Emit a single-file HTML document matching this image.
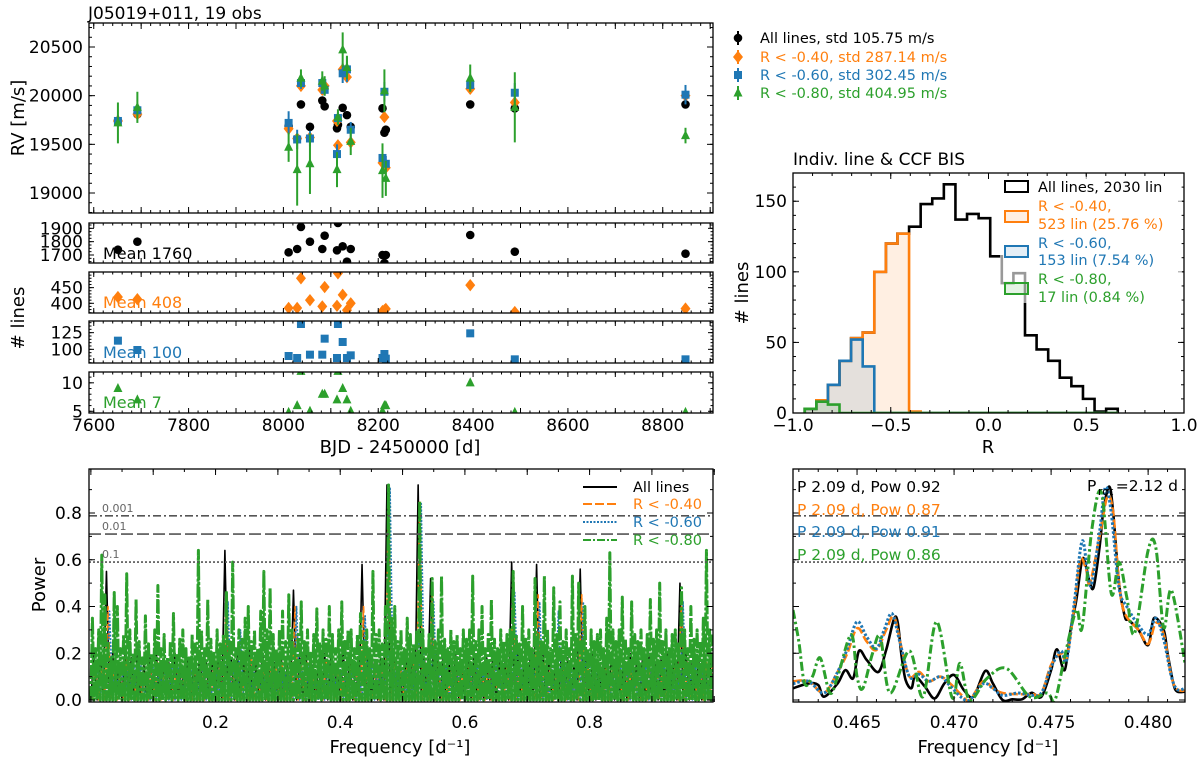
<!DOCTYPE html>
<html><head><meta charset="utf-8"><title>J05019+011 RV diagnostics</title>
<style>
html,body{margin:0;padding:0;background:#fff;}
svg{display:block;font-family:"DejaVu Sans","Liberation Sans",sans-serif;}
</style></head>
<body>
<svg id="chart" width="1200" height="762" viewBox="0 0 1200 762" xmlns="http://www.w3.org/2000/svg">
<defs>
<clipPath id="clipRV"><rect x="89" y="23" width="624" height="190"/></clipPath>
<clipPath id="clipN0"><rect x="89" y="223" width="624" height="40"/></clipPath>
<clipPath id="clipN1"><rect x="89" y="272" width="624" height="41"/></clipPath>
<clipPath id="clipN2"><rect x="89" y="321" width="624" height="42"/></clipPath>
<clipPath id="clipN3"><rect x="89" y="372" width="624" height="41"/></clipPath>
<clipPath id="clipH"><rect x="793" y="173" width="391" height="240"/></clipPath>
<clipPath id="clipPL"><rect x="89" y="469" width="624" height="233"/></clipPath>
<clipPath id="clipPR"><rect x="793" y="469" width="392" height="233"/></clipPath>
</defs>
<text x="88" y="19" font-size="17">J05019+011, 19 obs</text>
<text x="793" y="165" font-size="17">Indiv. line &amp; CCF BIS</text>
</svg>
<script>
// ---------------- DATA ----------------
const RV_DAYS = [7651,7692,8011,8029,8037,8056,8082,8087,8113,8115,8125,8134,8142,8209,8213,8216,8394,8488,8848];
const RV_ALL  = [19740,19810,19690,19560,19910,19680,19950,19890,19665,19700,19875,19800,19680,19870,19620,19650,19910,19870,19910];
const RV_R040 = [19740,19810,19660,19560,20100,19570,20060,20100,19740,19490,20270,20190,19520,19310,19780,19260,20070,19930,20000];
const RV_R060 = [19740,19850,19720,19550,20130,19560,20130,20060,19400,19770,20230,20270,19650,19360,20040,19300,20110,20030,20010];
const RV_R080 = [19720,19880,19470,19240,20180,19300,20150,20100,19240,19780,20470,20290,19530,19230,20050,19150,20180,19880,19590];
const ERR_ALL  = [15,15,15,15,15,15,15,15,15,15,15,15,15,15,15,15,15,15,15];
const ERR_R040 = [30,30,30,30,30,30,30,30,30,30,30,30,30,30,30,30,30,30,30];
const ERR_R060 = [60,60,120,100,60,80,60,60,100,60,100,130,80,100,100,80,60,100,100];
const ERR_R080 = [210,160,150,370,90,310,100,100,180,80,180,120,140,280,220,180,140,360,80];
const NL_ALL  = [1740,1800,1720,1745,1910,1800,1745,1845,1735,1940,1765,1650,1745,1700,1640,1700,1850,1725,1710];
const NL_R040 = [420,413,385,385,480,410,390,452,392,496,427,378,400,375,378,382,458,372,383];
const NL_R060 = [113,99,90,87,138,92,92,116,87,138,111,87,91,87,93,86,124,85,85];
const NL_R080 = [9,7,4.8,6,12,5,8,8,7,12,9,7,5,5,6,6,10,4.8,4.8];
const RV_LEGEND = ["All lines, std 105.75 m/s","R < -0.40, std 287.14 m/s","R < -0.60, std 302.45 m/s","R < -0.80, std 404.95 m/s"];
const MEAN_LABELS = ["Mean 1760","Mean 408","Mean 100","Mean 7"];

// histogram
const HIST_EDGE0 = -0.94;
const HIST_WIDTH = 0.0593;
const HIST_ALL  = [3,9,20,37,53,57,100,120,127,132,148,152,162,137,141,138,111,92,99,55,45,37,25,19,10,1,3];
const HIST_R040 = [3,9,20,37,53,57,100,120,127,1,0,0,0,0,0,0,0,0,0,0,0,0,0,0,0,0,0];
const HIST_R060 = [3,8,20,37,52,33,0,0,0,0,0,0,0,0,0,0,0,0,0,0,0,0,0,0,0,0,0];
const HIST_R080 = [3,8,6,0,0,0,0,0,0,0,0,0,0,0,0,0,0,0,0,0,0,0,0,0,0,0,0];
const HIST_LEGEND = ["All lines, 2030 lin","R < -0.40,","523 lin (25.76 %)","R < -0.60,","153 lin (7.54 %)","R < -0.80,","17 lin (0.84 %)"];

// full periodogram (bin peak powers)
const PG_F0_G = 0.0025, PG_STEP_G = 0.005;
const PG_R080 = [0.35,0.22,0.30,0.62,0.45,0.25,0.18,0.46,0.40,0.22,0.28,0.54,0.30,0.20,0.43,0.25,0.18,0.36,0.24,0.20,
0.30,0.49,0.22,0.28,0.18,0.25,0.37,0.20,0.26,0.30,0.22,0.18,0.28,0.24,0.64,0.30,0.22,0.43,0.26,0.20,
0.30,0.24,0.28,0.46,0.25,0.59,0.22,0.30,0.26,0.35,0.40,0.25,0.30,0.22,0.38,0.55,0.30,0.48,0.28,0.22,
0.30,0.38,0.25,0.45,0.30,0.22,0.28,0.42,0.25,0.30,0.20,0.28,0.39,0.24,0.30,0.26,0.40,0.28,0.22,0.30,
0.42,0.26,0.30,0.30,0.22,0.28,0.37,0.25,0.30,0.22,0.55,0.28,0.30,0.24,0.40,0.92,0.35,0.40,0.25,0.30,
0.22,0.35,0.28,0.24,0.30,0.85,0.30,0.22,0.28,0.52,0.25,0.30,0.53,0.26,0.22,0.30,0.25,0.28,0.22,0.30,
0.26,0.30,0.53,0.25,0.30,0.40,0.22,0.28,0.43,0.26,0.22,0.30,0.25,0.28,0.30,0.55,0.28,0.24,0.40,0.26,
0.30,0.22,0.52,0.28,0.25,0.53,0.30,0.22,0.48,0.28,0.42,0.25,0.30,0.22,0.53,0.28,0.50,0.26,0.40,0.22,
0.30,0.25,0.28,0.30,0.22,0.35,0.63,0.30,0.25,0.30,0.44,0.26,0.22,0.42,0.28,0.25,0.30,0.22,0.28,0.43,
0.26,0.30,0.50,0.25,0.30,0.22,0.28,0.30,0.25,0.48,0.30,0.22,0.40,0.26,0.30,0.25,0.35,0.64,0.30,0.28];
const PG_F0 = 0.005, PG_STEP = 0.01;
const PG_ALL = [0.20,0.18,0.55,0.20,0.15,0.22,0.18,0.20,0.15,0.18,0.20,0.15,0.16,0.20,0.15,0.18,0.15,0.20,0.16,0.18,
0.20,0.64,0.18,0.20,0.16,0.22,0.15,0.20,0.18,0.16,0.20,0.15,0.47,0.18,0.20,0.15,0.16,0.20,0.18,0.15,
0.20,0.18,0.15,0.58,0.20,0.16,0.18,0.92,0.20,0.16,0.18,0.20,0.92,0.18,0.52,0.20,0.18,0.15,0.20,0.16,
0.18,0.20,0.15,0.18,0.20,0.16,0.18,0.59,0.20,0.16,0.18,0.58,0.20,0.18,0.16,0.20,0.18,0.15,0.56,0.18,
0.20,0.16,0.18,0.20,0.16,0.18,0.20,0.15,0.18,0.20,0.16,0.18,0.20,0.18,0.50,0.20,0.16,0.18,0.20,0.18];
const PG_R040 = [0.16,0.14,0.40,0.16,0.12,0.18,0.15,0.16,0.12,0.15,0.16,0.12,0.14,0.16,0.12,0.15,0.12,0.16,0.12,0.15,
0.16,0.46,0.15,0.16,0.14,0.18,0.12,0.16,0.15,0.14,0.16,0.12,0.40,0.15,0.16,0.12,0.14,0.16,0.15,0.12,
0.16,0.15,0.12,0.40,0.16,0.14,0.15,0.87,0.16,0.14,0.15,0.16,0.85,0.15,0.45,0.16,0.15,0.12,0.16,0.14,
0.15,0.16,0.12,0.15,0.16,0.14,0.15,0.50,0.16,0.14,0.15,0.45,0.16,0.15,0.14,0.16,0.15,0.12,0.45,0.15,
0.16,0.14,0.15,0.16,0.14,0.15,0.16,0.12,0.15,0.16,0.14,0.15,0.16,0.15,0.45,0.16,0.14,0.15,0.16,0.15];
const PG_R060 = [0.15,0.14,0.38,0.15,0.13,0.17,0.14,0.15,0.12,0.14,0.15,0.13,0.14,0.15,0.12,0.15,0.13,0.15,0.13,0.14,
0.15,0.42,0.14,0.30,0.14,0.17,0.13,0.15,0.14,0.14,0.15,0.13,0.40,0.14,0.15,0.13,0.14,0.15,0.14,0.13,
0.15,0.14,0.13,0.36,0.15,0.14,0.14,0.91,0.15,0.14,0.14,0.15,0.84,0.14,0.42,0.15,0.14,0.13,0.15,0.14,
0.14,0.15,0.13,0.14,0.15,0.14,0.14,0.46,0.15,0.14,0.14,0.42,0.15,0.14,0.38,0.15,0.14,0.13,0.42,0.14,
0.15,0.14,0.14,0.15,0.14,0.14,0.15,0.13,0.14,0.15,0.14,0.14,0.15,0.14,0.42,0.15,0.14,0.14,0.15,0.14];
const FAP_LEVELS = [0.788,0.71,0.59];
const FAP_LABELS = ["0.001","0.01","0.1"];

// zoomed periodogram
const ZF_ALL = [0.4617,0.4625,0.4630,0.4633,0.4640,0.4644,0.4648,0.4651,0.4655,0.4661,0.4665,0.4670,0.4673,0.4675,0.4678,0.4680,0.4685,0.4690,0.4695,0.4700,0.4705,0.4710,0.4716,0.4720,0.4725,0.4730,0.4735,0.4740,0.4745,0.4750,0.4753,0.4757,0.4760,0.4763,0.4766,0.4768,0.4770,0.4772,0.4775,0.4777,0.4780,0.4782,0.4785,0.4788,0.4790,0.4795,0.4800,0.4803,0.4808,0.4810,0.4813,0.4815,0.4819];
const ZP_ALL = [0.05,0.071,0.064,0.014,0.071,0.128,0.093,0.21,0.171,0.12,0.214,0.357,0.185,0.086,0.05,0.10,0.057,0.007,0.071,0.107,0.043,0.014,0.124,0.071,0.0,0.003,0.003,0.031,0.014,0.128,0.217,0.128,0.30,0.428,0.60,0.57,0.50,0.485,0.656,0.813,0.913,0.80,0.50,0.357,0.342,0.30,0.235,0.35,0.30,0.20,0.071,0.036,0.036];
const ZF_R040 = [0.4617,0.4625,0.4633,0.4640,0.4645,0.4650,0.4655,0.4660,0.4665,0.4669,0.4673,0.4677,0.4682,0.4687,0.4693,0.4698,0.4704,0.4708,0.4715,0.4720,0.4725,0.4733,0.4740,0.4745,0.4750,0.4755,0.4758,0.4762,0.4765,0.4768,0.4770,0.4775,0.4779,0.4782,0.4785,0.4788,0.4795,0.4800,0.4804,0.4808,0.4812,0.4815,0.4819];
const ZP_R040 = [0.08,0.08,0.03,0.12,0.20,0.307,0.25,0.214,0.30,0.357,0.22,0.10,0.12,0.08,0.10,0.07,0.02,0.0,0.08,0.05,0.03,0.025,0.025,0.03,0.15,0.20,0.18,0.40,0.60,0.56,0.50,0.70,0.87,0.80,0.50,0.37,0.30,0.24,0.33,0.28,0.10,0.045,0.04];
const ZF_R060 = [0.4617,0.4625,0.4633,0.4640,0.4645,0.4650,0.4655,0.4660,0.4664,0.4668,0.4672,0.4677,0.4682,0.4687,0.4693,0.4698,0.4704,0.4708,0.4715,0.4720,0.4725,0.4733,0.4740,0.4745,0.4750,0.4755,0.4758,0.4762,0.4766,0.4769,0.4771,0.4775,0.4778,0.4781,0.4785,0.4789,0.4795,0.4800,0.4804,0.4808,0.4812,0.4815,0.4819];
const ZP_R060 = [0.07,0.08,0.03,0.12,0.22,0.335,0.27,0.22,0.30,0.37,0.25,0.10,0.11,0.08,0.10,0.06,0.01,0.0,0.07,0.05,0.02,0.03,0.02,0.03,0.14,0.21,0.17,0.42,0.68,0.53,0.50,0.72,0.91,0.80,0.48,0.40,0.32,0.28,0.35,0.26,0.10,0.045,0.05];
const ZF_R080 = [0.4617,0.4620,0.4623,0.4627,0.4631,0.4636,0.4640,0.4647,0.4650,0.4653,0.4658,0.4662,0.4667,0.4677,0.4684,0.4691,0.4699,0.4703,0.4708,0.4717,0.4727,0.4739,0.4748,0.4752,0.4757,0.4763,0.4766,0.4771,0.4776,0.4781,0.4785,0.4789,0.4793,0.4800,0.4804,0.4808,0.4812,0.4819];
const ZP_R080 = [0.385,0.25,0.07,0.10,0.18,0.03,0.10,0.28,0.10,0.05,0.20,0.27,0.03,0.21,0.014,0.335,0.01,0.157,0.0,0.093,0.135,0.014,0.03,0.0,0.185,0.385,0.31,0.73,0.885,0.456,0.59,0.44,0.285,0.64,0.65,0.31,0.47,0.157];
const ZOOM_LABELS = ["P 2.09 d, Pow 0.92","P 2.09 d, Pow 0.87","P 2.09 d, Pow 0.91","P 2.09 d, Pow 0.86"];

// ---------------- HELPERS ----------------
const svg = document.getElementById('chart');
const NS = 'http://www.w3.org/2000/svg';
const C = {k:'#000000', o:'#ff7f0e', b:'#1f77b4', g:'#2ca02c'};
function el(tag, attrs, parent){
  const e = document.createElementNS(NS, tag);
  for (const k in attrs) e.setAttribute(k, attrs[k]);
  (parent || svg).appendChild(e);
  return e;
}
function lin(d0,d1,r0,r1){ return v => r0 + (v-d0)/(d1-d0)*(r1-r0); }
function group(name, clip){
  const g = el('g', clip ? {'clip-path':'url(#'+clip+')'} : {});
  
  
  return g;
}
function txt(str, x, y, size, fill, anchor, parent, name){
  const t = el('text', {x:x, y:y, 'font-size':size, fill:fill||'#000', 'text-anchor':anchor||'start'}, parent);
  t.textContent = str;
  
  
  return t;
}
function frame(x0,y0,x1,y1,name){
  const r = el('rect', {x:x0, y:y0, width:x1-x0, height:y1-y0, fill:'none', stroke:'#000', 'stroke-width':1.3});
  
  
}
function xTicks(vals, sx, y0, y1, len, parent){
  vals.forEach(v => {
    const x = sx(v);
    const a = el('line', {x1:x, x2:x, y1:y1, y2:y1-len, stroke:'#000', 'stroke-width':1}, parent);
    
    
    const b = el('line', {x1:x, x2:x, y1:y0, y2:y0+len, stroke:'#000', 'stroke-width':1}, parent);
    
    
  });
}
function yTicks(vals, sy, x0, x1, len, parent){
  vals.forEach(v => {
    const y = sy(v);
    const a = el('line', {x1:x0, x2:x0+len, y1:y, y2:y, stroke:'#000', 'stroke-width':1}, parent);
    
    
    const b = el('line', {x1:x1, x2:x1-len, y1:y, y2:y, stroke:'#000', 'stroke-width':1}, parent);
    
    
  });
}
function range(a,b,s){ const r=[]; for(let v=a; v<=b+1e-9; v+=s) r.push(+v.toFixed(6)); return r; }
function marker(shape, x, y, color, parent, name){
  let m;
  if (shape==='o') m = el('circle', {cx:x, cy:y, r:4.3, fill:color}, parent);
  else if (shape==='D') m = el('polygon', {points:`${x},${y-6.2} ${x+5},${y} ${x},${y+6.2} ${x-5},${y}`, fill:color}, parent);
  else if (shape==='s') m = el('rect', {x:x-4, y:y-4, width:8, height:8, fill:color}, parent);
  else m = el('polygon', {points:`${x},${y-5.5} ${x+4.5},${y+3.5} ${x-4.5},${y+3.5}`, fill:color}, parent);
  
  
  return m;
}
function smoothPath(xs, ys){
  let d = `M${xs[0]},${ys[0]}`;
  for (let i=0;i<xs.length-1;i++){
    const x0 = xs[Math.max(i-1,0)], y0 = ys[Math.max(i-1,0)];
    const x1 = xs[i], y1 = ys[i], x2 = xs[i+1], y2 = ys[i+1];
    const x3 = xs[Math.min(i+2,xs.length-1)], y3 = ys[Math.min(i+2,xs.length-1)];
    const c1x = x1+(x2-x0)/6, c1y = y1+(y2-y0)/6, c2x = x2-(x3-x1)/6, c2y = y2-(y3-y1)/6;
    d += ` C${c1x},${c1y} ${c2x},${c2y} ${x2},${y2}`;
  }
  return d;
}

// ---------------- RV PANEL ----------------
const sxT = lin(7590, 8906, 89, 713);
const syRV = lin(20500, 19000, 47, 193);
{
  const g = group('rv-plot', 'clipRV');
  const series = [
    [RV_ALL, ERR_ALL, 'o', C.k, 'rv-all-lines'],
    [RV_R040, ERR_R040, 'D', C.o, 'rv-r-040'],
    [RV_R060, ERR_R060, 's', C.b, 'rv-r-060'],
    [RV_R080, ERR_R080, '^', C.g, 'rv-r-080']
  ];
  series.forEach(([vals, errs, shp, col, nm]) => {
    const sg = group(nm+'-series');
    g.appendChild(sg);
    vals.forEach((v,i) => {
      const x = sxT(RV_DAYS[i]);
      const eb = el('line', {x1:x, x2:x, y1:syRV(v-errs[i]), y2:syRV(v+errs[i]), stroke:col, 'stroke-width':2}, sg);
      
      
      marker(shp, x, syRV(v), col, sg, nm+'-point');
    });
  });
  const ax = group('rv-axes');
  xTicks(range(7600, 8900, 100), sxT, 23, 213, 6, ax);
  xTicks(range(7600, 8900, 20), sxT, 23, 213, 3, ax);
  yTicks(range(19000, 20500, 500), syRV, 89, 713, 6, ax);
  yTicks(range(18800, 20700, 100), v => { const y=syRV(v); return (y<23||y>213)? -99 : y; }, 89, 713, 3, ax);
  frame(89,23,713,213,'rv-frame');
  [19000,19500,20000,20500].forEach(v => txt(String(v), 83, syRV(v)+6, 17, '#000', 'end', ax, 'rv-y-tick-label'));
  const yl = txt('RV [m/s]', 0, 0, 18, '#000', 'middle', ax, 'rv-y-axis-title');
  yl.setAttribute('transform', 'translate(24,118) rotate(-90)');
}
// RV legend
{
  const g = group('rv-legend');
  const cols = [C.k, C.o, C.b, C.g], shps = ['o','D','s','^'], ys = [38,57,75,93];
  RV_LEGEND.forEach((s,i) => {
    const eb = el('line', {x1:738, x2:738, y1:ys[i]-7, y2:ys[i]+7, stroke:cols[i], 'stroke-width':2}, g);
    
    
    marker(shps[i], 738, ys[i], cols[i], g, 'legend-marker');
    txt(s, 760, ys[i]+5, 14.5, cols[i], 'start', g, 'legend-entry');
  });
}

// ---------------- # LINES PANELS ----------------
const NPANELS = [
  {vals:NL_ALL, lim:[1640,1940], y0:223, y1:263, clip:'clipN0', shp:'o', col:C.k, ticks:[1700,1800,1900], minor:25, name:'nlines-all'},
  {vals:NL_R040, lim:[369,500], y0:272, y1:313, clip:'clipN1', shp:'D', col:C.o, ticks:[400,450], minor:10, name:'nlines-r040'},
  {vals:NL_R060, lim:[79.5,142.5], y0:321, y1:363, clip:'clipN2', shp:'s', col:C.b, ticks:[100,125], minor:5, name:'nlines-r060'},
  {vals:NL_R080, lim:[4.7,11.9], y0:372, y1:413, clip:'clipN3', shp:'^', col:C.g, ticks:[5,10], minor:1, name:'nlines-r080'}
];
NPANELS.forEach((p,pi) => {
  const sy = lin(p.lim[0], p.lim[1], p.y1, p.y0);
  const g = group(p.name+'-plot', p.clip);
  p.vals.forEach((v,i) => marker(p.shp, sxT(RV_DAYS[i]), sy(v), p.col, g, p.name+'-point'));
  const ax = group(p.name+'-axes');
  xTicks(range(7600, 8900, 100), sxT, p.y0, p.y1, 5, ax);
  xTicks(range(7600, 8900, 20), sxT, p.y0, p.y1, 2.5, ax);
  yTicks(p.ticks, sy, 89, 713, 5, ax);
  const mins = range(Math.ceil(p.lim[0]/p.minor)*p.minor, p.lim[1], p.minor);
  yTicks(mins, sy, 89, 713, 2.5, ax);
  frame(89, p.y0, 713, p.y1, p.name+'-frame');
  p.ticks.forEach(v => txt(String(v), 83, sy(v)+6, 17, '#000', 'end', ax, p.name+'-tick-label'));
  txt(MEAN_LABELS[pi], 103, [259,308,358,408][pi], 16, p.col, 'start', ax, p.name+'-mean-label');
});
{
  const ax = group('time-x-axis');
  [7600,7800,8000,8200,8400,8600,8800].forEach(v => txt(String(v), sxT(v), 431, 17, '#000', 'middle', ax, 'time-x-tick-label'));
  txt('BJD - 2450000 [d]', 400, 453, 18, '#000', 'middle', ax, 'time-x-axis-title');
  const yl = txt('# lines', 0, 0, 18, '#000', 'middle', ax, 'nlines-y-axis-title');
  yl.setAttribute('transform', 'translate(24,318) rotate(-90)');
}

// ---------------- HISTOGRAM ----------------
const sxH = lin(-1, 1, 793, 1184);
const syH = lin(0, 170, 413, 173);
{
  const g = group('histogram-plot', 'clipH');
  function stepPath(vals){
    let d = `M${sxH(HIST_EDGE0)},${syH(0)}`;
    vals.forEach((v,i) => {
      const a = HIST_EDGE0 + i*HIST_WIDTH, b = a + HIST_WIDTH;
      d += ` L${sxH(a)},${syH(v)} L${sxH(b)},${syH(v)}`;
    });
    d += ` L${sxH(HIST_EDGE0 + vals.length*HIST_WIDTH)},${syH(0)}`;
    return d;
  }
  const hs = [
    [HIST_ALL, C.k, 'none', 'hist-all-lines'],
    [HIST_R040, C.o, 'rgba(255,127,14,0.12)', 'hist-r-040'],
    [HIST_R060, C.b, 'rgba(31,119,180,0.12)', 'hist-r-060'],
    [HIST_R080, C.g, 'rgba(44,160,44,0.12)', 'hist-r-080']
  ];
  hs.forEach(([vals, col, fill, nm]) => {
    const p = el('path', {d:stepPath(vals), fill:fill, stroke:col, 'stroke-width':2.6, 'stroke-linejoin':'miter'}, g);
    
    
  });
  const ax = group('histogram-axes');
  xTicks(range(-1,1,0.5), sxH, 173, 413, 6, ax);
  xTicks(range(-1,1,0.1), sxH, 173, 413, 3, ax);
  yTicks(range(0,150,50), syH, 793, 1184, 6, ax);
  yTicks(range(0,170,10), syH, 793, 1184, 3, ax);
  frame(793,173,1184,413,'histogram-frame');
  [[-1,'\u22121.0'],[-0.5,'\u22120.5'],[0,'0.0'],[0.5,'0.5'],[1,'1.0']].forEach(([v,s]) => txt(s, sxH(v), 431, 17, '#000', 'middle', ax, 'hist-x-tick-label'));
  [0,50,100,150].forEach(v => txt(String(v), 787, syH(v)+6, 17, '#000', 'end', ax, 'hist-y-tick-label'));
  txt('R', 988, 453, 18, '#000', 'middle', ax, 'hist-x-axis-title');
  const yl = txt('# lines', 0, 0, 18, '#000', 'middle', ax, 'hist-y-axis-title');
  yl.setAttribute('transform', 'translate(748,293) rotate(-90)');
  const lg = group('histogram-legend');
  const bg = el('rect', {x:1000, y:177, width:182, height:126, fill:'#fff', 'fill-opacity':0.6}, lg);
  
  
  const boxes = [[187,C.k,'none'],[217,C.o,'rgba(255,127,14,0.12)'],[252,C.b,'rgba(31,119,180,0.12)'],[289,C.g,'rgba(44,160,44,0.12)']];
  boxes.forEach(([y,col,fill]) => {
    const r = el('rect', {x:1005, y:y-6, width:23, height:11, fill:fill, stroke:col, 'stroke-width':2}, lg);
    
    
  });
  const lcols = [C.k,C.o,C.o,C.b,C.b,C.g,C.g], lys = [192,211,229,248,265,284,302];
  HIST_LEGEND.forEach((s,i) => txt(s, 1038, lys[i], 14.5, lcols[i], 'start', lg, 'hist-legend-entry'));
}

// ---------------- PERIODOGRAM FULL ----------------
const syP = lin(0, 1, 700, 466.25);
const sxP = lin(-0.003, 0.998, 89, 713);
{
  const g = group('periodogram-plot', 'clipPL');
  function zig(f0, step, vals){
    let d = '';
    vals.forEach((v,i) => {
      const f = f0 + i*step;
      d += (i===0?'M':' L') + `${sxP(f-step*0.5)},${syP(0)} L${sxP(f)},${syP(v)}`;
    });
    return d;
  }
  const ps = [
    [PG_F0, PG_STEP, PG_ALL, C.k, 'none', 1.6, 'pg-all-lines'],
    [PG_F0+0.0025, PG_STEP, PG_R040, C.o, '7,3', 1.6, 'pg-r-040'],
    [PG_F0+0.005, PG_STEP, PG_R060, C.b, '2,1.5', 1.6, 'pg-r-060'],
    [PG_F0_G, PG_STEP_G, PG_R080, C.g, '14,2,3,2', 3.0, 'pg-r-080']
  ];
  ps.forEach(([f0, st, vals, col, dash, w, nm]) => {
    const p = el('path', {d:zig(f0, st, vals), fill:'none', stroke:col, 'stroke-width':w, 'stroke-dasharray':dash, 'stroke-linejoin':'round'}, g);
    
    
  });
  const ax = group('periodogram-axes');
  const dashes = ['8,3,2,3','12,4','2,2'];
  FAP_LEVELS.forEach((v,i) => {
    const l = el('line', {x1:89, x2:713, y1:syP(v), y2:syP(v), stroke:'#555', 'stroke-width':1.6, 'stroke-dasharray':dashes[i]}, ax);
    
    
    txt(FAP_LABELS[i], 102, syP(v)-4, 11, '#666', 'start', ax, 'fap-label');
  });
  xTicks(range(0,1,0.1), sxP, 469, 702, 6, ax);
  xTicks(range(0,1,0.05), sxP, 469, 702, 3, ax);
  yTicks(range(0,0.8,0.2), syP, 89, 713, 6, ax);
  yTicks(range(0,0.9,0.1), syP, 89, 713, 3, ax);
  frame(89,469,713,702,'periodogram-frame');
  [0.2,0.4,0.6,0.8].forEach(v => txt(v.toFixed(1), sxP(v), 728, 17, '#000', 'middle', ax, 'pg-x-tick-label'));
  [0,0.2,0.4,0.6,0.8].forEach(v => txt(v.toFixed(1), 82, syP(v)+6, 17, '#000', 'end', ax, 'pg-y-tick-label'));
  txt('Frequency [d\u207B\u00B9]', 400, 753, 18, '#000', 'middle', ax, 'pg-x-axis-title');
  const yl = txt('Power', 0, 0, 18, '#000', 'middle', ax, 'pg-y-axis-title');
  yl.setAttribute('transform', 'translate(45,585) rotate(-90)');
  const lg = group('periodogram-legend');
  const lcols = [C.k,C.o,C.b,C.g], ldash = ['none','9,3','2,1.5','8,2,2,2'], lys = [487,504,522,540], labs = ['All lines','R < -0.40','R < -0.60','R < -0.80'];
  labs.forEach((s,i) => {
    const l = el('line', {x1:583, x2:617, y1:lys[i], y2:lys[i], stroke:lcols[i], 'stroke-width':2, 'stroke-dasharray':ldash[i]}, lg);
    
    
    txt(s, 633, lys[i]+5, 14.5, lcols[i], 'start', lg, 'pg-legend-entry');
  });
}

// ---------------- PERIODOGRAM ZOOM ----------------
const sxZ = lin(0.4617, 0.4819, 793, 1185);
{
  const ax = group('zoom-periodogram-axes');
  const dashes = ['8,3,2,3','12,4','2,2'];
  FAP_LEVELS.forEach((v,i) => {
    const l = el('line', {x1:793, x2:1185, y1:syP(v), y2:syP(v), stroke:'#555', 'stroke-width':1.6, 'stroke-dasharray':dashes[i]}, ax);
    
    
  });
  const g = group('zoom-periodogram-plot', 'clipPR');
  const zs = [
    [ZF_ALL, ZP_ALL, C.k, 'none', 2.6, 'zoom-pg-all-lines'],
    [ZF_R040, ZP_R040, C.o, '9,3', 2.6, 'zoom-pg-r-040'],
    [ZF_R060, ZP_R060, C.b, '2.5,2', 3, 'zoom-pg-r-060'],
    [ZF_R080, ZP_R080, C.g, '9,3,2.5,3', 3, 'zoom-pg-r-080']
  ];
  zs.forEach(([fs, ps, col, dash, w, nm]) => {
    const p = el('path', {d:smoothPath(fs.map(sxZ), ps.map(syP)), fill:'none', stroke:col, 'stroke-width':w, 'stroke-dasharray':dash}, g);
    
    
  });
  const at = group('zoom-periodogram-annotations');
  xTicks(range(0.462,0.481,0.001), sxZ, 469, 702, 3, at);
  xTicks([0.465,0.470,0.475,0.480], sxZ, 469, 702, 6, at);
  yTicks(range(0,0.8,0.2), syP, 793, 1185, 6, at);
  yTicks(range(0,0.9,0.1), syP, 793, 1185, 3, at);
  frame(793,469,1185,702,'zoom-periodogram-frame');
  [0.465,0.470,0.475,0.480].forEach(v => txt(v.toFixed(3), sxZ(v), 728, 17, '#000', 'middle', at, 'zoom-x-tick-label'));
  txt('Frequency [d\u207B\u00B9]', 988, 753, 18, '#000', 'middle', at, 'zoom-x-axis-title');
  const cols = [C.k,C.o,C.b,C.g], ys = [492,515,537,560];
  ZOOM_LABELS.forEach((s,i) => txt(s, 797, ys[i], 15.5, cols[i], 'start', at, 'zoom-peak-label'));
  txt('P', 1087, 491, 15.5, '#000', 'start', at, 'rotation-period-label');
  txt('rot', 1098, 495, 11, '#000', 'start', at, 'rotation-period-subscript');
  txt('=2.12 d', 1178, 491, 15.5, '#000', 'end', at, 'rotation-period-value');
}
</script>
</body></html>
